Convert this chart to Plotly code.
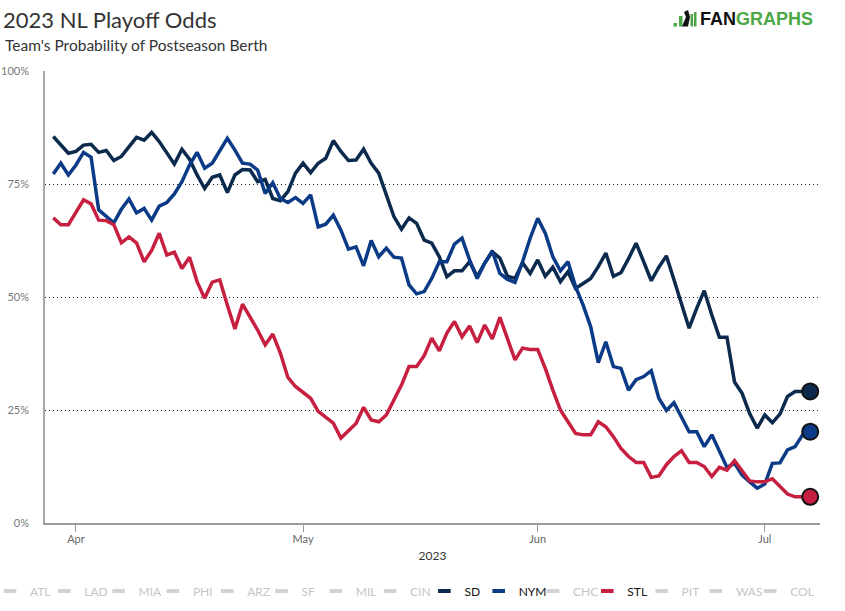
import pandas as pd
import plotly.graph_objects as go

dates = pd.date_range("2023-03-29", "2023-07-07", freq="D")

sd = [85.5, 83.6, 81.8, 82.2, 83.6, 83.8, 82.0, 82.4, 80.2, 81.1, 83.3, 85.3, 84.7, 86.4, 84.4, 81.8,
      79.4, 82.7, 80.5, 77.0, 74.0, 76.5, 77.0, 73.1, 77.0, 78.2, 78.1, 75.5, 76.0, 71.8, 71.3, 73.3,
      77.4, 79.6, 77.5, 79.6, 80.7, 84.6, 82.2, 80.2, 80.3, 82.7, 79.6, 77.4, 72.6, 67.8, 65.0, 67.5,
      66.3, 62.6, 61.9, 58.9, 54.5, 55.8, 55.8, 57.8, 54.5, 57.5, 60.0, 58.6, 54.6, 54.1, 57.6, 55.2,
      58.2, 54.6, 56.6, 53.4, 55.6, 51.9, 53.0, 54.1, 56.7, 59.7, 54.6, 55.4, 58.5, 61.9, 57.8, 53.6,
      56.6, 59.1, 53.8, 48.6, 43.1, 47.5, 51.4, 46.0, 41.1, 41.1, 31.2, 28.7, 24.2, 21.0, 23.9, 22.2,
      24.1, 28.0, 29.1, 29.1, 29.1]

nym = [77.2, 79.6, 77.0, 79.2, 82.0, 80.9, 69.3, 67.8, 66.4, 69.4, 71.7, 68.6, 69.6, 67.0, 70.1, 70.9,
       72.8, 75.5, 79.2, 82.0, 78.5, 79.6, 82.2, 85.1, 82.5, 79.6, 79.4, 78.1, 72.9, 75.3, 71.8, 70.9,
       72.0, 70.7, 72.6, 65.5, 66.1, 68.1, 64.8, 60.6, 61.1, 56.9, 62.5, 58.9, 60.8, 58.8, 58.6, 52.7,
       50.7, 51.2, 54.1, 57.8, 57.8, 61.7, 63.0, 58.2, 54.1, 57.5, 60.2, 55.2, 53.9, 53.2, 57.8, 63.0,
       67.4, 64.1, 58.9, 55.8, 57.8, 52.3, 48.2, 43.4, 35.5, 40.1, 34.6, 34.2, 29.4, 31.7, 32.4, 33.7,
       27.6, 24.9, 26.6, 23.4, 20.2, 20.2, 16.9, 19.5, 15.8, 12.3, 13.2, 10.6, 9.1, 7.7, 8.6, 13.2,
       13.3, 16.2, 16.9, 19.5, 20.2]

stl = [67.5, 66.0, 66.0, 68.7, 71.5, 70.6, 67.0, 66.9, 66.0, 62.0, 63.3, 62.0, 57.8, 60.3, 64.1, 59.3,
       59.9, 56.3, 58.8, 53.4, 49.7, 53.3, 53.8, 48.2, 42.9, 48.4, 45.6, 42.7, 39.4, 41.8, 37.6, 32.2,
       30.2, 29.0, 27.6, 24.7, 23.4, 22.1, 18.8, 20.5, 22.0, 25.6, 22.8, 22.4, 23.9, 27.2, 30.5, 34.6,
       34.6, 37.0, 40.9, 38.1, 42.0, 44.6, 41.2, 43.6, 39.9, 43.8, 40.7, 45.5, 40.9, 36.1, 38.7, 38.4,
       38.4, 34.2, 29.4, 25.0, 22.4, 19.8, 19.5, 19.5, 22.4, 21.3, 19.1, 16.5, 14.7, 13.4, 13.4, 10.1,
       10.4, 12.9, 14.7, 16.0, 13.4, 13.4, 12.5, 10.3, 12.3, 11.7, 13.8, 11.4, 9.3, 9.1, 9.1, 9.8,
       8.0, 6.4, 5.8, 5.8, 5.8]

legend_teams = ["ATL", "LAD", "MIA", "PHI", "ARZ", "SF", "MIL", "CIN", "SD", "NYM", "CHC", "STL", "PIT", "WAS", "COL"]
series = {"SD": sd, "NYM": nym, "STL": stl}
colors = {"SD": "#0c2a4e", "NYM": "#0b3a86", "STL": "#c61f40"}

month_ticks = ["2023-04-01", "2023-05-01", "2023-06-01", "2023-07-01"]
month_labels = ["Apr", "May", "Jun", "Jul"]
y_ticks = [0, 25, 50, 75, 100]
y_labels = ["0%", "25%", "50%", "75%", "100%"]

FONT = "Lato"
fig = go.Figure()

for team in ["SD", "NYM", "STL"]:
    fig.add_trace(go.Scatter(x=dates, y=series[team], mode="lines", name=team, legendgroup=team,
                             showlegend=False, line=dict(color=colors[team], width=3.5),
                             hovertemplate=team + " %{x|%b %d}: %{y:.1f}%<extra></extra>"))
for team in ["SD", "NYM", "STL"]:
    fig.add_trace(go.Scatter(x=[dates[-1]], y=[series[team][-1]], mode="markers", legendgroup=team,
                             showlegend=False,
                             marker=dict(size=16, color=colors[team], line=dict(color="#111111", width=2)),
                             hoverinfo="skip"))

for i, team in enumerate(legend_teams):
    extra = dict(legendwidth=28) if i == len(legend_teams) - 1 else {}
    if team in series:
        fig.add_trace(go.Scatter(x=[None], y=[None], mode="markers", name=team, legendgroup=team,
                                 marker=dict(symbol="line-ew", size=9, line=dict(width=4, color=colors[team])),
                                 **extra))
    else:
        fig.add_trace(go.Scatter(x=[None], y=[None], mode="markers", visible="legendonly",
                                 name=f"<span style='color:#8c8c8c'>{team}</span>", legendgroup=team,
                                 marker=dict(symbol="line-ew", size=9, line=dict(width=4, color="#a8a8a8")),
                                 **extra))

# pixel helpers: plot area spans x 45..820 (domain), y 71..523
L, R, T, B = 45, 0, 71, 88
PW, PH = 845 - L - R, 611 - T - B
XDOM = (820 - L) / PW
px = lambda x: (x - L) / PW
py = lambda y: (611 - B - y) / PH

G = "#4ca846"
shapes = [
    dict(type="rect", xref="paper", yref="paper", x0=px(673.5), x1=px(677), y0=py(26.5), y1=py(23), fillcolor=G, line_width=0),
    dict(type="rect", xref="paper", yref="paper", x0=px(679), x1=px(682.5), y0=py(26.5), y1=py(16), fillcolor=G, line_width=0),
    dict(type="path", xref="paper", yref="paper",
         path=f"M {px(682)} {py(26.5)} L {px(686)} {py(17)} L {px(684)} {py(12)} L {px(688)} {py(10)} L {px(690)} {py(17)} L {px(688)} {py(26.5)} Z",
         fillcolor="#111111", line_width=0),
    dict(type="rect", xref="paper", yref="paper", x0=px(690.5), x1=px(693), y0=py(26.5), y1=py(14), fillcolor=G, line_width=0),
    dict(type="rect", xref="paper", yref="paper", x0=px(694), x1=px(696.5), y0=py(26.5), y1=py(12), fillcolor=G, line_width=0),
]

fig.update_layout(
    width=845, height=611,
    margin=dict(l=L, r=R, t=T, b=B, autoexpand=False),
    paper_bgcolor="white", plot_bgcolor="white",
    font=dict(family=FONT, color="#333333"),
    title=dict(text="2023 NL Playoff Odds", x=3 / 845, xref="container", xanchor="left",
               y=1 - 20.5 / 611, yref="container", yanchor="middle",
               font=dict(family=FONT, size=22, color="#333333")),
    annotations=[
        dict(text="Team's Probability of Postseason Berth", xref="paper", yref="paper",
             x=px(3), y=py(45), xanchor="left", yanchor="middle", showarrow=False,
             font=dict(family=FONT, size=15.5, color="#333333")),
        dict(text="<b>FAN</b><b><span style='color:#4ca846'>GRAPHS</span></b>", xref="paper", yref="paper",
             x=px(815), y=py(19), xanchor="right", yanchor="middle", showarrow=False,
             font=dict(family="Liberation Sans", size=18, color="#111111")),
    ],
    shapes=shapes,
    showlegend=True,
    legend=dict(orientation="h", x=px(-10), xanchor="left", y=py(591), yanchor="middle",
                entrywidth=9.3, entrywidthmode="pixels", itemwidth=30,
                font=dict(family=FONT, size=12, color="#111111"), bgcolor="rgba(0,0,0,0)"),
    hovermode="closest",
)

fig.update_xaxes(
    domain=[0, XDOM],
    range=["2023-03-27 21:50", "2023-07-08 07:00"],
    tickvals=month_ticks, ticktext=month_labels,
    showgrid=False, zeroline=False,
    showline=True, linecolor="#9a9a9a", linewidth=1.5,
    ticks="outside", ticklen=7, tickcolor="#9a9a9a", tickwidth=1,
    ticklabelstandoff=-2,
    tickfont=dict(family=FONT, size=11, color="#666666"),
    title=dict(text="2023", standoff=8, font=dict(family=FONT, size=12, color="#333333")),
)
fig.update_yaxes(
    range=[0, 100], tickvals=y_ticks, ticktext=y_labels,
    showgrid=True, gridcolor="#222222", gridwidth=1.2, griddash="1px,3px",
    zeroline=False, showline=True, linecolor="#a8a8a8", linewidth=1.5,
    ticks="outside", ticklen=12, tickcolor="rgba(0,0,0,0)",
    tickfont=dict(family=FONT, size=11, color="#777777"),
)

fig.write_html("out.html")
